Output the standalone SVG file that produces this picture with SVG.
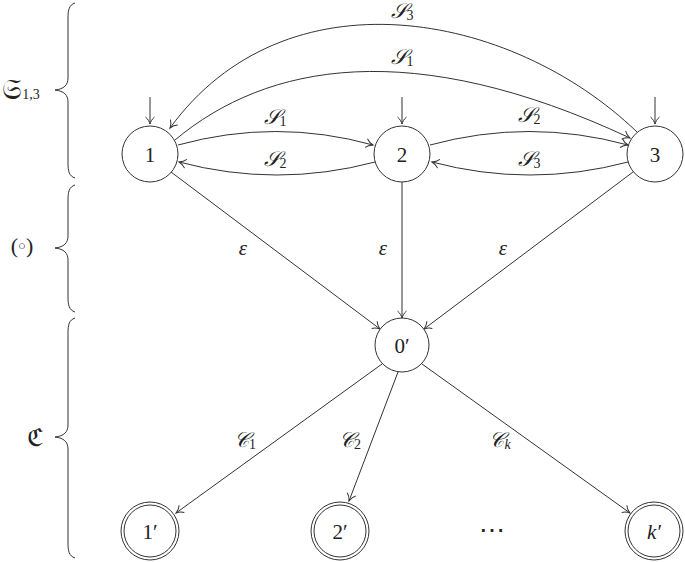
<svg xmlns="http://www.w3.org/2000/svg" width="685" height="562" viewBox="0 0 685 562">
<defs>
<marker id="ah" markerUnits="userSpaceOnUse" markerWidth="14" markerHeight="14" viewBox="-10 -7 12 14" refX="0" refY="0" orient="auto">
<path d="M-7,-4.5 C-5,-2 -2,-0.6 0,0 C-2,0.6 -5,2 -7,4.5" fill="none" stroke="#333" stroke-width="1"/>
</marker>
<style>
.n{fill:#fff;stroke:#333;stroke-width:1}
.e{fill:none;stroke:#333;stroke-width:1;marker-end:url(#ah)}
.b{fill:none;stroke:#333;stroke-width:1}
.t{font-family:"Liberation Serif","DejaVu Serif",serif;font-size:21px;fill:#222;text-anchor:middle;dominant-baseline:central}
.m{font-family:"Liberation Serif","DejaVu Serif",serif;font-size:21px;font-style:italic;fill:#222;text-anchor:middle;dominant-baseline:central}
.s{font-size:14px;font-style:normal}
.si{font-size:14px;font-style:italic}
</style>
</defs>
<rect width="685" height="562" fill="#fff"/>
<g id="braces">
<path class="b" d="M75,3 C69,5 68,10 68,18 L68,78 C68,85 64,89 55,90 C64,91 68,95 68,102 L68,163 C68,171 69,176 75,178"/>
<path class="b" d="M75,185 C69,187 68,192 68,200 L68,236 C68,243 64,247 55,248 C64,249 68,253 68,260 L68,297 C68,305 69,310 75,312"/>
<path class="b" d="M75,318 C69,320 68,325 68,333 L68,425 C68,432 64,436 55,437 C64,438 68,442 68,449 L68,543 C68,551 69,556 75,558"/>
<text class="t" x="21" y="89"><tspan style="font-size:28px">𝔖</tspan><tspan class="s" dy="5">1,3</tspan></text>
<text class="t" x="22" y="245" style="font-size:22px">(<tspan style="font-size:13px">○</tspan>)</text>
<text class="t" x="35" y="437" style="font-size:25px">ℭ</text>
</g>
<g id="connectors">
<line class="e" x1="150" y1="97" x2="150" y2="124"/>
<line class="e" x1="402" y1="97" x2="402" y2="124"/>
<line class="e" x1="655" y1="97" x2="655" y2="124"/>
<path class="e" d="M178,145 Q276,118 373,145"/>
<path class="e" d="M375,162 Q277,188 179,162"/>
<path class="e" d="M430,145 Q529,118 628,145"/>
<path class="e" d="M628,162 Q530,188 432,162"/>
<path class="e" d="M175,140 C267,63 412,36 630,138"/>
<path class="e" d="M637,132 C510,10 285,-30 170,128"/>
<line class="e" x1="171" y1="172" x2="380" y2="329"/>
<line class="e" x1="402" y1="182" x2="402" y2="318"/>
<line class="e" x1="633" y1="172" x2="424" y2="329"/>
<line class="e" x1="382" y1="364" x2="176" y2="513"/>
<line class="e" x1="398" y1="372" x2="349" y2="501"/>
<line class="e" x1="422" y1="364" x2="630" y2="513"/>
<text class="m" x="402" y="11">𝒮<tspan class="s" dy="4">3</tspan></text>
<text class="m" x="402" y="57">𝒮<tspan class="s" dy="4">1</tspan></text>
<text class="m" x="275" y="117">𝒮<tspan class="s" dy="4">1</tspan></text>
<text class="m" x="275" y="159">𝒮<tspan class="s" dy="4">2</tspan></text>
<text class="m" x="529" y="115">𝒮<tspan class="s" dy="4">2</tspan></text>
<text class="m" x="529" y="159">𝒮<tspan class="s" dy="4">3</tspan></text>
<text class="m" x="243" y="248">ε</text>
<text class="m" x="383" y="248">ε</text>
<text class="m" x="503" y="248">ε</text>
<text class="m" x="245" y="440">𝒞<tspan class="s" dy="4">1</tspan></text>
<text class="m" x="350" y="440">𝒞<tspan class="s" dy="4">2</tspan></text>
<text class="m" x="500" y="440">𝒞<tspan class="si" dy="4">k</tspan></text>
</g>
<g id="node1"><circle class="n" cx="150" cy="154" r="28"/><text class="t" x="150" y="155">1</text></g>
<g id="node2"><circle class="n" cx="402" cy="154" r="28"/><text class="t" x="402" y="155">2</text></g>
<g id="node3"><circle class="n" cx="655" cy="154" r="28"/><text class="t" x="655" y="155">3</text></g>
<g id="node0p"><circle class="n" cx="402" cy="345" r="27"/><text class="t" x="402" y="346">0′</text></g>
<g id="node1p"><circle class="n" cx="150" cy="531" r="29"/><circle class="n" cx="150" cy="531" r="26"/><text class="t" x="150" y="532">1′</text></g>
<g id="node2p"><circle class="n" cx="340" cy="531" r="29"/><circle class="n" cx="340" cy="531" r="26"/><text class="t" x="340" y="532">2′</text></g>
<g id="dots"><text class="t" x="492" y="530" style="font-size:26px">⋯</text></g>
<g id="nodekp"><circle class="n" cx="654" cy="531" r="29"/><circle class="n" cx="654" cy="531" r="26"/><text class="m" x="654" y="532">k′</text></g>
</svg>
